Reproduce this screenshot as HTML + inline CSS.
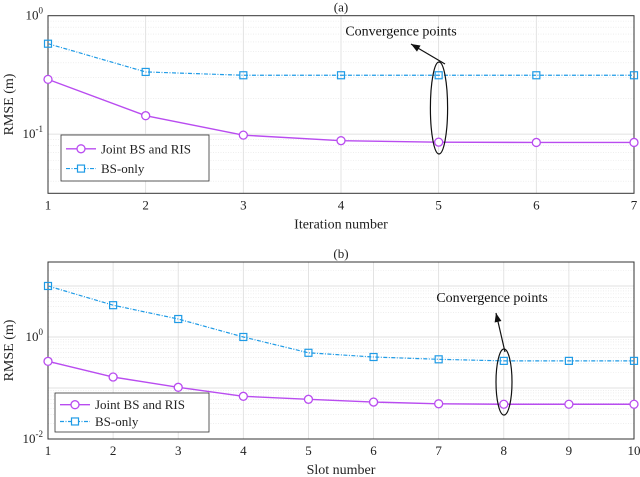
<!DOCTYPE html>
<html><head><meta charset="utf-8"><style>
html,body{margin:0;padding:0;background:#fff;}
svg{display:block;font-family:"Liberation Serif",serif;}
</style></head><body>
<svg id="chart" width="640" height="477" viewBox="0 0 640 477"></svg>
<script>
const xA = [1,2,3,4,5,6,7];
const jointA = [0.29,0.143,0.098,0.088,0.0855,0.085,0.085];
const bsA = [0.58,0.335,0.314,0.314,0.314,0.314,0.314];
const xB = [1,2,3,4,5,6,7,8,9,10];
const jointB = [0.333,0.164,0.103,0.0687,0.06,0.053,0.049,0.048,0.048,0.048];
const bsB = [10,4.2,2.25,1.0,0.49,0.405,0.365,0.34,0.34,0.34];
const yTicksA = [["10","0",0],["10","-1",-1]];
const yTicksB = [["10","0",0],["10","-2",-2]];

const NS="http://www.w3.org/2000/svg";
const svg=document.getElementById('chart');
function mk(tag,attrs,parent){const e=document.createElementNS(NS,tag);for(const k in attrs)e.setAttribute(k,attrs[k]);(parent||svg).appendChild(e);return e;}
const JC="#b94cf0", BC="#1f9be6";

function panel(cfg){
  const g=mk('g',{});
  
  
  const L=48,R=634,T=cfg.top,B=cfg.bottom;
  const xs=v=>L+(v-cfg.xs[0])/(cfg.xs[cfg.xs.length-1]-cfg.xs[0])*(R-L);
  const ys=v=>B-(Math.log10(v)-cfg.lmin)/(cfg.lmax-cfg.lmin)*(B-T);
  // minor grid
  for(let d=Math.floor(cfg.lmin);d<cfg.lmax;d++){
    for(let m=1;m<10;m++){
      const v=m*Math.pow(10,d);const lv=Math.log10(v);
      if(lv<cfg.lmin||lv>cfg.lmax)continue;
      const y=ys(v);
      const ln=mk('line',{x1:L,x2:R,y1:y,y2:y,stroke:m==1?'#d8d8d8':'#e4e4e4','stroke-width':m==1?0.8:0.6,'stroke-dasharray':m==1?'':'1,1.5'},g);
      
      
    }
  }
  cfg.xs.forEach(v=>{
    const x=xs(v);
    const ln=mk('line',{x1:x,x2:x,y1:T,y2:B,stroke:'#dcdcdc','stroke-width':0.8},g);
    
    
    const t=mk('text',{x:x,y:B+16,'font-size':13,'text-anchor':'middle',fill:'#222'},g);
    t.textContent=v;
    
    
  });
  cfg.yt.forEach(tk=>{
    const y=ys(Math.pow(10,tk[2]));
    const t=mk('text',{x:L-5,y:y+4,'font-size':13,'text-anchor':'end',fill:'#222'},g);
    t.textContent=tk[0];
    const s=mk('tspan',{dy:-6,'font-size':9},t);s.textContent=tk[1];
    
    
  });
  const box=mk('rect',{x:L,y:T,width:R-L,height:B-T,fill:'none',stroke:'#333','stroke-width':1},g);
  
  
  const title=mk('text',{x:(L+R)/2,y:T-4,'font-size':13,'text-anchor':'middle',fill:'#222'},g);
  title.textContent=cfg.title;
  
  
  const xl=mk('text',{x:(L+R)/2,y:B+35,'font-size':14,'text-anchor':'middle',fill:'#222'},g);
  xl.textContent=cfg.xlabel;
  
  
  const yl=mk('text',{x:0,y:0,'font-size':14,'text-anchor':'middle',fill:'#222',transform:`translate(13,${(T+B)/2}) rotate(-90)`},g);
  yl.textContent='RMSE (m)';
  
  
  // series
  const bsLine=mk('polyline',{points:cfg.xs.map((v,i)=>xs(v)+','+ys(cfg.bs[i])).join(' '),fill:'none',stroke:BC,'stroke-width':1.2,'stroke-dasharray':'4,1.5,1,1.5'},g);
  
  
  cfg.xs.forEach((v,i)=>{
    const r=mk('rect',{x:xs(v)-3.5,y:ys(cfg.bs[i])-3.5,width:7,height:7,fill:'none',stroke:BC,'stroke-width':1.2},g);
    
    
  });
  const jl=mk('polyline',{points:cfg.xs.map((v,i)=>xs(v)+','+ys(cfg.joint[i])).join(' '),fill:'none',stroke:JC,'stroke-width':1.4},g);
  
  
  cfg.xs.forEach((v,i)=>{
    const c=mk('circle',{cx:xs(v),cy:ys(cfg.joint[i]),r:4,fill:'#fff',stroke:JC,'stroke-width':1.3},g);
    
    
  });
  // legend
  const lg=mk('g',{},g);
  
  
  const lb=cfg.leg;
  mk('rect',{x:lb[0],y:lb[1],width:lb[2],height:lb[3],fill:'#fff',stroke:'#333','stroke-width':0.8},lg);
  const y1=lb[1]+lb[3]*0.3,y2=lb[1]+lb[3]*0.73;
  mk('line',{x1:lb[0]+5,x2:lb[0]+35,y1:y1,y2:y1,stroke:JC,'stroke-width':1.4},lg);
  mk('circle',{cx:lb[0]+20,cy:y1,r:4,fill:'#fff',stroke:JC,'stroke-width':1.3},lg);
  mk('line',{x1:lb[0]+5,x2:lb[0]+35,y1:y2,y2:y2,stroke:BC,'stroke-width':1.2,'stroke-dasharray':'4,1.5,1,1.5'},lg);
  mk('rect',{x:lb[0]+16.5,y:y2-3.5,width:7,height:7,fill:'#fff',stroke:BC,'stroke-width':1.2},lg);
  const t1=mk('text',{x:lb[0]+40,y:y1+4.5,'font-size':13,fill:'#222'},lg);t1.textContent='Joint BS and RIS';
  
  
  const t2=mk('text',{x:lb[0]+40,y:y2+4.5,'font-size':13,fill:'#222'},lg);t2.textContent='BS-only';
  
  
  // annotation
  const a=cfg.ann;
  const at=mk('text',{x:a.tx,y:a.ty+5,'font-size':14,'text-anchor':'middle',fill:'#111'},g);
  at.textContent='Convergence points';
  
  
  const el=mk('ellipse',{cx:a.ex,cy:a.ey,rx:a.rx,ry:a.ry,fill:'none',stroke:'#111','stroke-width':1.2},g);
  
  
  const ar=mk('line',{x1:a.a0[0],y1:a.a0[1],x2:a.a1[0],y2:a.a1[1],stroke:'#111','stroke-width':1.2},g);
  
  
  const dx=a.a1[0]-a.a0[0],dy=a.a1[1]-a.a0[1],len=Math.hypot(dx,dy),ux=dx/len,uy=dy/len;
  const hx=a.a1[0],hy=a.a1[1];
  mk('polygon',{points:`${hx},${hy} ${hx-ux*9-uy*3.5},${hy-uy*9+ux*3.5} ${hx-ux*9+uy*3.5},${hy-uy*9-ux*3.5}`,fill:'#111'},g);
}
panel({name:'panel-a',top:15.7,bottom:193.3,lmin:-1.5,lmax:0,xs:xA,joint:jointA,bs:bsA,yt:yTicksA,title:'(a)',xlabel:'Iteration number',
  leg:[61,135,148,46],ann:{tx:401,ty:30.7,ex:439,ey:108,rx:8.6,ry:46,a0:[445,64],a1:[411,44]}});
panel({name:'panel-b',top:262,bottom:439,lmin:-2,lmax:1.47,xs:xB,joint:jointB,bs:bsB,yt:yTicksB,title:'(b)',xlabel:'Slot number',
  leg:[55,393,154,39],ann:{tx:492,ty:297,ex:504,ey:382,rx:8,ry:33,a0:[505,352],a1:[496,313]}});
</script>
</body></html>
